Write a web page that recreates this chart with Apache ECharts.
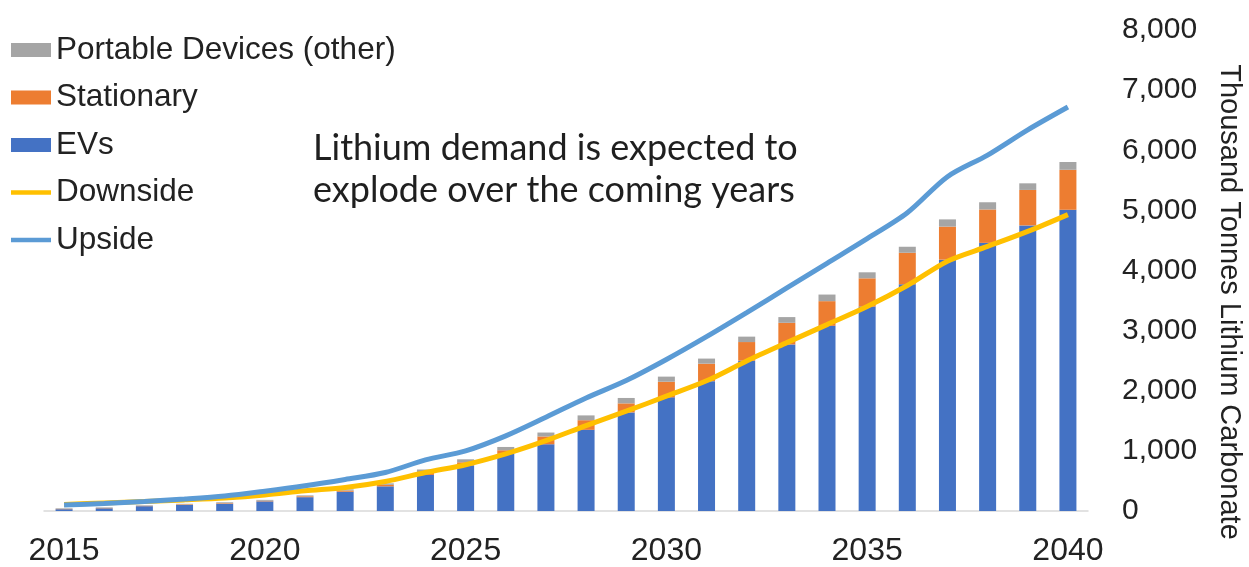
<!DOCTYPE html>
<html>
<head>
<meta charset="utf-8">
<script src="https://cdn.jsdelivr.net/npm/echarts@6/dist/echarts.min.js"></script>
<style>
html,body{margin:0;padding:0;background:#fff;}
#chart{width:1249px;height:567px;}
</style>
</head>
<body>
<div id="chart"></div>
<script>
var years = ['2015','2016','2017','2018','2019','2020','2021','2022','2023','2024','2025','2026','2027','2028','2029','2030','2031','2032','2033','2034','2035','2036','2037','2038','2039','2040'];
var evs = [30,45,80,100,120,160,230,320,410,600,760,950,1110,1350,1640,1890,2160,2500,2770,3080,3400,3770,4180,4460,4750,5010];
var stationary = [5,5,5,10,10,10,15,20,25,40,50,60,130,160,150,260,290,310,360,410,470,525,550,555,590,665];
var portable = [10,10,10,10,15,15,15,20,25,50,50,55,65,80,90,85,85,90,95,110,100,100,120,120,110,130];
var downside = [110,135,160,185,215,265,335,390,490,640,770,950,1170,1420,1660,1910,2165,2495,2800,3100,3400,3750,4155,4400,4650,4930];
var upside = [100,125,160,200,250,330,420,525,640,850,1000,1250,1560,1880,2170,2520,2900,3300,3710,4120,4530,4960,5560,5920,6340,6720];
var yTicks = [0,1000,2000,3000,4000,5000,6000,7000,8000];
var axisTitle = 'Thousand Tonnes Lithium Carbonate';
var note = 'Lithium demand is expected to\nexplode over the coming years';

var chart = echarts.init(document.getElementById('chart'));
var font = '"Liberation Sans", Arial, sans-serif';
var lineIcon = 'path://M0,0L46,0L46,5L0,5Z';
chart.setOption({
  animation: false,
  backgroundColor: '#ffffff',
  grid: {left: 44, right: 161, top: 30, bottom: 55},
  legend: {
    orient: 'vertical', left: 6, top: 27,
    itemWidth: 40, itemHeight: 14, itemGap: 11.5,
    symbolKeepAspect: true,
    data: [
      {name: 'Portable Devices (other)', icon: 'rect'},
      {name: 'Stationary', icon: 'rect'},
      {name: 'EVs', icon: 'rect'},
      {name: 'Downside', icon: lineIcon},
      {name: 'Upside', icon: lineIcon}
    ],
    textStyle: {fontFamily: font, fontSize: 31.5, color: '#222', lineHeight: 36},
    selectedMode: false
  },
  xAxis: {
    type: 'category', data: years,
    axisLine: {lineStyle: {color: '#d9d9d9', width: 1.5}},
    axisTick: {show: false},
    axisLabel: {interval: 4, fontFamily: font, fontSize: 32, color: '#222', margin: 24}
  },
  yAxis: {
    type: 'value', position: 'right', min: 0, max: 8000, interval: 1000,
    splitLine: {show: false},
    axisLine: {show: false}, axisTick: {show: false},
    axisLabel: {
      fontFamily: font, fontSize: 30, color: '#222', margin: 34,
      formatter: function (v) { return v.toLocaleString('en-US'); }
    }
  },
  graphic: [
    {type: 'text', x: 1229, y: 302, rotation: -Math.PI / 2,
     style: {text: axisTitle, font: '29px "Liberation Sans", Arial, sans-serif', fill: '#222', textAlign: 'center', textVerticalAlign: 'middle'}},
    {type: 'text', left: 313, top: 127,
     style: {text: note, font: '36px Lato, "Open Sans", sans-serif', fill: '#1f1f1f', lineHeight: 42}}
  ],
  series: [
    {name: 'EVs', type: 'bar', stack: 'total', data: evs, barWidth: 17, itemStyle: {color: '#4472C4'}},
    {name: 'Stationary', type: 'bar', stack: 'total', data: stationary, barWidth: 17, itemStyle: {color: '#ED7D31'}},
    {name: 'Portable Devices (other)', type: 'bar', stack: 'total', data: portable, barWidth: 17, itemStyle: {color: '#A5A5A5'}},
    {name: 'Downside', type: 'line', data: downside, smooth: 0.3, symbol: 'none', z: 5,
     lineStyle: {color: '#FFC000', width: 5}, itemStyle: {color: '#FFC000'}},
    {name: 'Upside', type: 'line', data: upside, smooth: 0.3, symbol: 'none', z: 6,
     lineStyle: {color: '#5B9BD5', width: 5}, itemStyle: {color: '#5B9BD5'}}
  ]
});
</script>
</body>
</html>
